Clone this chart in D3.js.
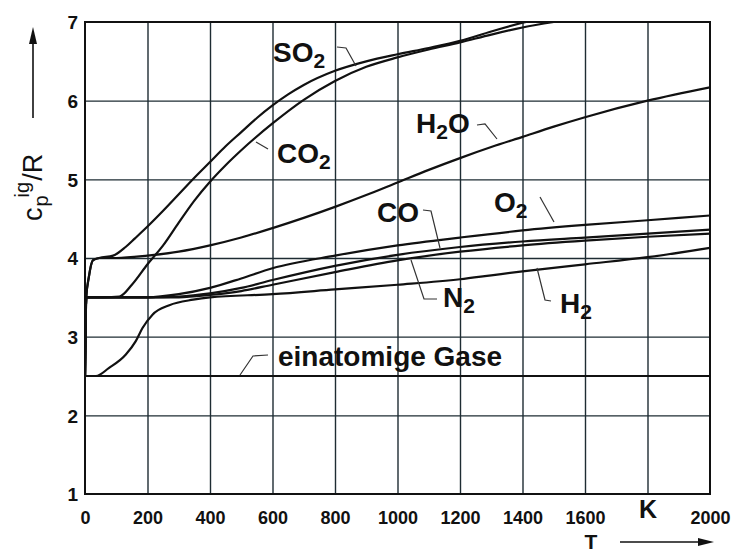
<!DOCTYPE html>
<html><head><meta charset="utf-8">
<script src="https://cdn.jsdelivr.net/npm/d3@7/dist/d3.min.js"></script>
<style>
html,body{margin:0;padding:0;background:#fff;}
svg{display:block;font-family:"Liberation Sans",Arial,Helvetica,sans-serif;}
</style></head>
<body><svg id="c" width="739" height="554"></svg>
<script>
// ---- data (T in K, cp/R) ----
const xTicks = [0,200,400,600,800,1000,1200,1400,1600,1800,2000];
const xTickLabels = ["0","200","400","600","800","1000","1200","1400","1600","K","2000"];
const yTicks = [1,2,3,4,5,6,7];

const so2T = [0,4,12,25,45,90,130,160,200,250,300,350,400,450,500,550,600,650,700,800,900,1000,1100,1200,1300,1400,1500];
const so2  = [2.5,3.5,3.75,3.97,4.0,4.03,4.14,4.25,4.4,4.6,4.81,5.02,5.22,5.42,5.6,5.78,5.94,6.08,6.2,6.38,6.5,6.59,6.67,6.76,6.88,6.99,7.08];

const co2T = [0,4,60,110,150,200,250,300,350,400,450,500,600,700,800,900,1000,1100,1200,1300,1400,1500,1600];
const co2  = [2.5,3.5,3.5,3.51,3.66,3.92,4.16,4.45,4.73,4.97,5.18,5.37,5.71,6.01,6.25,6.43,6.55,6.65,6.74,6.84,6.93,7.0,7.06];

const h2oT = [0,4,12,25,45,100,200,300,400,500,600,700,800,900,1000,1100,1200,1300,1400,1500,1600,1800,2000];
const h2o  = [2.5,3.5,3.75,3.97,4.0,4.0,4.03,4.08,4.16,4.26,4.38,4.51,4.65,4.8,4.96,5.12,5.27,5.41,5.54,5.67,5.79,6.0,6.17];

const o2T = [0,4,100,200,300,400,500,600,800,1000,1200,1400,1600,1800,2000];
const o2  = [2.5,3.5,3.5,3.5,3.54,3.62,3.74,3.87,4.03,4.16,4.26,4.35,4.42,4.48,4.54];

const coT = [0,4,100,200,300,400,500,600,800,1000,1200,1400,1600,1800,2000];
const co  = [2.5,3.5,3.5,3.5,3.51,3.55,3.62,3.72,3.9,4.04,4.14,4.21,4.26,4.31,4.36];

const n2T = [0,4,100,200,300,400,500,600,800,1000,1200,1400,1600,1800,2000];
const n2  = [2.5,3.5,3.5,3.5,3.5,3.53,3.58,3.66,3.82,3.97,4.08,4.16,4.22,4.27,4.31];

const h2T = [0,35,76,130,162,184,216,270,346,400,600,800,1000,1200,1300,1400,1600,1800,2000];
const h2  = [2.5,2.5,2.6,2.77,2.94,3.11,3.28,3.4,3.47,3.5,3.54,3.6,3.66,3.73,3.78,3.83,3.92,4.01,4.13];

const monoT = [0,2000];
const mono  = [2.5,2.5];

const seriesNames = ["SO2","CO2","H2O","O2","CO","N2","H2","einatomige Gase"];

// ---- drawing ----
const svg = d3.select("#c");
const x = d3.scaleLinear().domain([0,2000]).range([85,710]);
const y = d3.scaleLinear().domain([1,7]).range([494,22]);
const gridColor = "#1e2c33";

svg.append("defs").append("clipPath").attr("id","plot")
  .append("rect").attr("x",x(0)).attr("y",y(7)).attr("width",x(2000)-x(0)).attr("height",y(1)-y(7));

// grid
const gx = svg.append("g").attr("transform",`translate(0,${y(1)})`)
  .call(d3.axisBottom(x).tickValues(xTicks.slice(1,-1)).tickSize(-(y(1)-y(7))).tickFormat(""));
gx.select(".domain").remove();
gx.selectAll("line").attr("stroke",gridColor).attr("stroke-width",1.4);
const gy = svg.append("g").attr("transform",`translate(${x(0)},0)`)
  .call(d3.axisLeft(y).tickValues(yTicks.slice(1,-1)).tickSize(-(x(2000)-x(0))).tickFormat(""));
gy.select(".domain").remove();
gy.selectAll("line").attr("stroke",gridColor).attr("stroke-width",1.4);

// frame
svg.append("rect").attr("x",x(0)).attr("y",y(7)).attr("width",x(2000)-x(0)).attr("height",y(1)-y(7))
  .attr("fill","none").attr("stroke","#111").attr("stroke-width",2);

// curves
const line = d3.line().x(d=>x(d[0])).y(d=>y(d[1])).curve(d3.curveMonotoneX);
const all = [[so2T,so2],[co2T,co2],[h2oT,h2o],[o2T,o2],[coT,co],[n2T,n2],[h2T,h2],[monoT,mono]];
const cg = svg.append("g").attr("clip-path","url(#plot)");
all.forEach(([ts,vs],i)=>{
  cg.append("path").datum(ts.map((t,k)=>[t,vs[k]]))
    .attr("d",line).attr("fill","none").attr("stroke","#111")
    .attr("stroke-width",2.2).attr("stroke-linejoin","round").attr("stroke-linecap","round")
    .attr("data-name",seriesNames[i]);
});

// axes labels
const ax = svg.append("g").attr("transform","translate(0,524)")
  .call(d3.axisBottom(x).tickValues(xTicks).tickSize(0).tickFormat((d,i)=>xTickLabels[i]));
ax.select(".domain").remove();
ax.selectAll("text").attr("y",0).attr("dy",null)
  .attr("font-size",18).attr("font-weight","bold").attr("fill","#111")
  .attr("font-family","'Liberation Sans',Arial,sans-serif");
ax.selectAll("text").filter(d=>d===1800).attr("font-size",25).attr("y",-6);

const ay = svg.append("g").attr("transform","translate(78,0)")
  .call(d3.axisLeft(y).tickValues(yTicks).tickSize(0).tickFormat(d3.format("d")));
ay.select(".domain").remove();
ay.selectAll("text").attr("x",0).attr("dy","0.36em")
  .attr("font-size",19).attr("font-weight","bold").attr("fill","#111")
  .attr("font-family","'Liberation Sans',Arial,sans-serif");

// curve labels
function label(xp,yp,main,sub,rest){
  const t = svg.append("text").attr("x",xp).attr("y",yp)
    .attr("font-size",28).attr("font-weight","bold").attr("fill","#111");
  t.append("tspan").text(main);
  if(sub){ t.append("tspan").attr("font-size",21).attr("dy",6).text(sub); }
  if(rest){ t.append("tspan").attr("dy",-6).text(rest); }
}
label(273,62,"SO","2");
label(277,163,"CO","2");
label(416,133,"H","2","O");
label(377,222,"CO");
label(494,212,"O","2");
label(443,307,"N","2");
label(560,313,"H","2");
svg.append("text").attr("x",278).attr("y",366).attr("font-size",28).attr("font-weight","bold")
  .attr("fill","#111").text("einatomige Gase");

// leader lines
const leaders = [
  [[337,47],[346,48],[356,66]],
  [[268,149],[256,142]],
  [[477,125],[485,124],[497,139]],
  [[423,210],[431,211],[440,248]],
  [[540,197],[554,222]],
  [[437,299],[424,299],[411,260]],
  [[551,301],[545,300],[537,268]],
  [[268,355],[253,356],[240,375]]
];
leaders.forEach(p=>{
  svg.append("path").attr("d",d3.line()(p)).attr("fill","none")
    .attr("stroke","#333").attr("stroke-width",1.2);
});

// axis titles
const yl = svg.append("text").attr("transform","translate(42,221) rotate(-90)")
  .attr("fill","#111").attr("font-size",27);
yl.append("tspan").text("c");
yl.append("tspan").attr("font-size",20).attr("dy",6).attr("dx",1).text("p");
yl.append("tspan").attr("font-size",20).attr("dy",-19).attr("dx",-2).text("ig");
yl.append("tspan").attr("dy",13).attr("dx",1).text("/R");

svg.append("line").attr("x1",33).attr("x2",33).attr("y1",118).attr("y2",40)
  .attr("stroke","#111").attr("stroke-width",1.6);
svg.append("path").attr("d","M33,27 L29,44 L37,44 Z").attr("fill","#111");

svg.append("text").attr("x",591).attr("y",549).attr("text-anchor","middle")
  .attr("font-size",21).attr("font-weight","bold").attr("fill","#111").text("T");
svg.append("line").attr("x1",620).attr("x2",700).attr("y1",542).attr("y2",542)
  .attr("stroke","#111").attr("stroke-width",1.6);
svg.append("path").attr("d","M714,542 L698,538 L698,546 Z").attr("fill","#111");
</script>
</body></html>
